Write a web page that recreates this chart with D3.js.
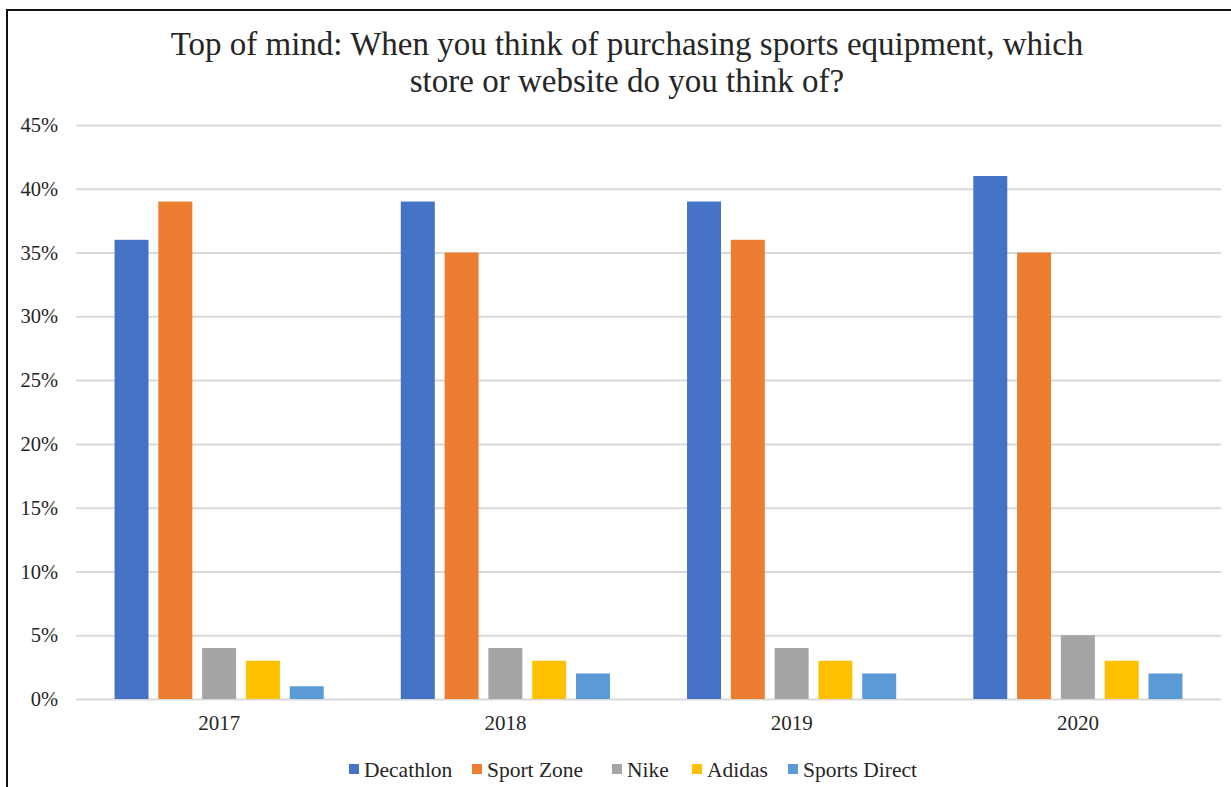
<!DOCTYPE html>
<html>
<head>
<meta charset="utf-8">
<script src="https://cdn.jsdelivr.net/npm/d3@7"></script>
<style>
  html, body { margin: 0; padding: 0; background: #fff; }
  svg { display: block; }
  text { font-family: "Liberation Serif", "Times New Roman", serif; fill: #262626; }
</style>
</head>
<body>
<svg id="chart" width="1231" height="787"></svg>
<script>
const categories = ["2017", "2018", "2019", "2020"];
const seriesNames = ["Decathlon", "Sport Zone", "Nike", "Adidas", "Sports Direct"];
const decathlon = [36, 39, 39, 41];
const sportZone = [39, 35, 36, 35];
const nike = [4, 4, 4, 5];
const adidas = [3, 3, 3, 3];
const sportsDirect = [1, 2, 2, 2];
const yTicks = [0, 5, 10, 15, 20, 25, 30, 35, 40, 45];
const colors = ["#4472C4", "#ED7D31", "#A5A5A5", "#FFC000", "#5B9BD5"];
const titleLines = ["Top of mind: When you think of purchasing sports equipment, which",
                    "store or website do you think of?"];

const seriesValues = [decathlon, sportZone, nike, adidas, sportsDirect];

const svg = d3.select("#chart");
const W = 1231, H = 787;
const plot = { left: 76, right: 1221, top: 125, bottom: 699 };

// frame (left and top border)
svg.append("line").attr("x1", 7).attr("x2", 7).attr("y1", 10).attr("y2", H)
  .attr("stroke", "#111").attr("stroke-width", 2);
svg.append("line").attr("x1", 6).attr("x2", W).attr("y1", 10).attr("y2", 10)
  .attr("stroke", "#111").attr("stroke-width", 2);

// title
svg.append("g").selectAll("text").data(titleLines).join("text")
  .attr("x", 627).attr("y", (d, i) => 55 + i * 37)
  .attr("text-anchor", "middle")
  .style("font-size", "33px")
  .text(d => d);

const y = d3.scaleLinear().domain([0, 45]).range([plot.bottom, plot.top]);
const x0 = d3.scaleBand().domain(categories).range([plot.left, plot.right]).padding(0);
const x1 = d3.scaleBand().domain(seriesNames).range([0, x0.bandwidth()])
  .paddingInner(0.224).paddingOuter(0.88);

// gridlines
const yAxis = d3.axisLeft(y).tickValues(yTicks).tickFormat(d => d + "%")
  .tickSize(-(plot.right - plot.left)).tickPadding(18);
const gy = svg.append("g").attr("transform", `translate(${plot.left},0)`).call(yAxis);
gy.select(".domain").remove();
gy.selectAll(".tick line").attr("stroke", "#D9D9D9").attr("stroke-width", 2);
gy.selectAll(".tick text").style("font-size", "20.5px").attr("fill", "#262626")
  .attr("font-family", "Liberation Serif, serif");

// bars
const groups = svg.append("g").selectAll("g").data(categories).join("g")
  .attr("transform", d => `translate(${x0(d)},0)`);
groups.selectAll("rect").data((c, ci) => seriesNames.map((s, si) => ({ s, si, v: seriesValues[si][ci] })))
  .join("rect")
  .attr("x", d => x1(d.s))
  .attr("width", x1.bandwidth())
  .attr("y", d => y(d.v))
  .attr("height", d => y(0) - y(d.v))
  .attr("fill", d => colors[d.si]);

// x axis labels
const xAxis = d3.axisBottom(x0).tickSize(0).tickPadding(16);
const gx = svg.append("g").attr("transform", `translate(0,${plot.bottom})`).call(xAxis);
gx.select(".domain").remove();
gx.selectAll(".tick text").style("font-size", "21px").attr("fill", "#262626")
  .attr("font-family", "Liberation Serif, serif");

// legend
const legendX = [349, 472, 612, 692, 788];
const legend = svg.append("g").selectAll("g").data(seriesNames).join("g")
  .attr("transform", (d, i) => `translate(${legendX[i]},769)`);
legend.append("rect").attr("x", 0).attr("y", -5).attr("width", 10).attr("height", 10)
  .attr("fill", (d, i) => colors[i]);
legend.append("text").attr("x", 15).attr("y", 0).attr("dy", "0.35em")
  .style("font-size", "21.5px").text(d => d);
</script>
</body>
</html>
